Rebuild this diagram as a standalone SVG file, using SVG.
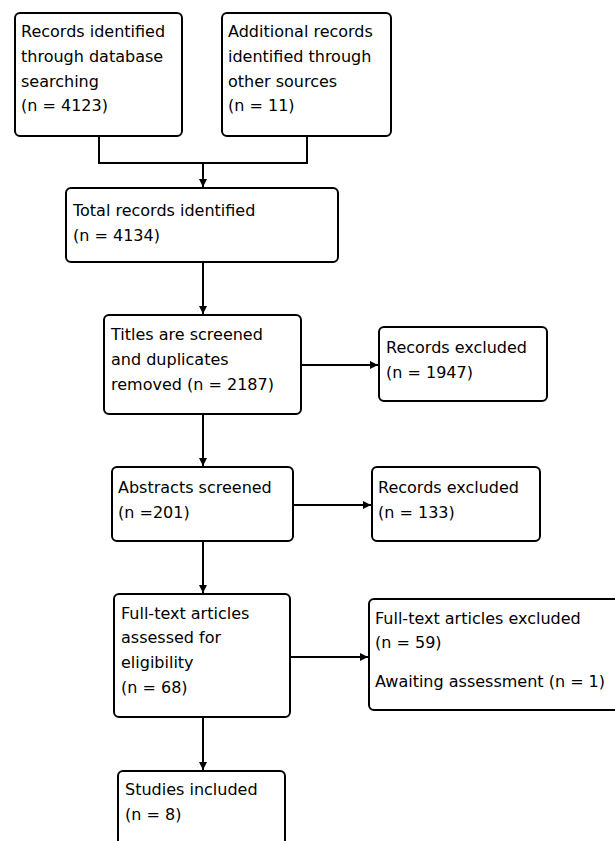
<svg xmlns="http://www.w3.org/2000/svg" width="615" height="841" viewBox="0 0 615 841">
<defs>
<marker id="ah" viewBox="0 0 8 8" refX="8" refY="4" markerWidth="4" markerHeight="4" markerUnits="strokeWidth" orient="auto">
<path d="M0,0 L8,4 L0,8 Z" fill="#000"/>
</marker>
<style>
.box{fill:#fff;stroke:#000;stroke-width:2}
.t{font-family:"DejaVu Sans",sans-serif;font-size:16px;fill:#000}
.c{fill:none;stroke:#000;stroke-width:2}
</style>
</defs>
<rect width="615" height="841" fill="#fff"/>
<g id="connectors">
<polyline class="c" points="99,136 99,163 307,163 307,136"/>
<line class="c" x1="203" y1="163" x2="203" y2="187" marker-end="url(#ah)"/>
<line class="c" x1="203" y1="262" x2="203" y2="314" marker-end="url(#ah)"/>
<line class="c" x1="301" y1="365" x2="378" y2="365" marker-end="url(#ah)"/>
<line class="c" x1="203" y1="414" x2="203" y2="466" marker-end="url(#ah)"/>
<line class="c" x1="293" y1="505" x2="371" y2="505" marker-end="url(#ah)"/>
<line class="c" x1="203" y1="541" x2="203" y2="593" marker-end="url(#ah)"/>
<line class="c" x1="290" y1="657" x2="368" y2="657" marker-end="url(#ah)"/>
<line class="c" x1="203" y1="717" x2="203" y2="770" marker-end="url(#ah)"/>
</g>
<g id="n1">
<rect class="box" x="15" y="13" width="167" height="123" rx="5"/>
<text class="t" x="21" y="37">Records identified</text>
<text class="t" x="21" y="62">through database</text>
<text class="t" x="21" y="87">searching</text>
<text class="t" x="21" y="111">(n = 4123)</text>
</g>
<g id="n2">
<rect class="box" x="222" y="13" width="169" height="123" rx="5"/>
<text class="t" x="228" y="37">Additional records</text>
<text class="t" x="228" y="62">identified through</text>
<text class="t" x="228" y="87">other sources</text>
<text class="t" x="228" y="111">(n = 11)</text>
</g>
<g id="n3">
<rect class="box" x="66" y="188" width="272" height="74" rx="5"/>
<text class="t" x="73" y="216">Total records identified</text>
<text class="t" x="73" y="241">(n = 4134)</text>
</g>
<g id="n4">
<rect class="box" x="104" y="315" width="197" height="99" rx="5"/>
<text class="t" x="111" y="340">Titles are screened</text>
<text class="t" x="111" y="365">and duplicates</text>
<text class="t" x="111" y="390">removed (n = 2187)</text>
</g>
<g id="n5">
<rect class="box" x="379" y="327" width="168" height="74" rx="5"/>
<text class="t" x="386" y="353">Records excluded</text>
<text class="t" x="386" y="378">(n = 1947)</text>
</g>
<g id="n6">
<rect class="box" x="112" y="467" width="181" height="74" rx="5"/>
<text class="t" x="118" y="493">Abstracts screened</text>
<text class="t" x="118" y="518">(n =201)</text>
</g>
<g id="n7">
<rect class="box" x="372" y="467" width="168" height="74" rx="5"/>
<text class="t" x="378" y="493">Records excluded</text>
<text class="t" x="378" y="518">(n = 133)</text>
</g>
<g id="n8">
<rect class="box" x="114" y="594" width="176" height="123" rx="5"/>
<text class="t" x="121" y="619">Full-text articles</text>
<text class="t" x="121" y="643">assessed for</text>
<text class="t" x="121" y="668">eligibility</text>
<text class="t" x="121" y="693">(n = 68)</text>
</g>
<g id="n9">
<rect class="box" x="369" y="599" width="260" height="111" rx="5"/>
<text class="t" x="375" y="624">Full-text articles excluded</text>
<text class="t" x="375" y="648">(n = 59)</text>
<text class="t" x="375" y="687">Awaiting assessment (n = 1)</text>
</g>
<g id="n10">
<rect class="box" x="118" y="771" width="167" height="90" rx="5"/>
<text class="t" x="125" y="795">Studies included</text>
<text class="t" x="125" y="820">(n = 8)</text>
</g>
</svg>
